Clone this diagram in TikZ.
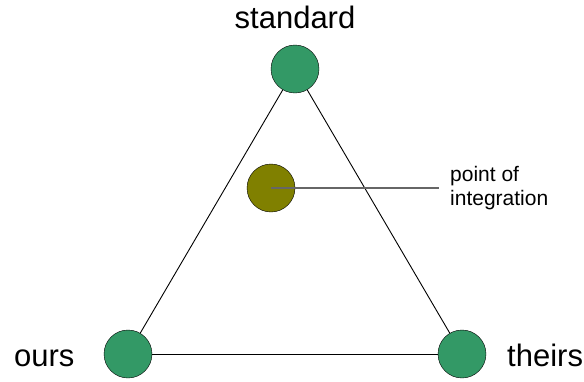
\documentclass[tikz,border=0pt]{standalone}
\usepackage{fontspec}
\setmainfont{Liberation Sans}
\usetikzlibrary{positioning}
\definecolor{vertexgreen}{HTML}{339966}
\definecolor{olivedot}{HTML}{808000}
\definecolor{pointer}{HTML}{666666}
\tikzset{
  vertex/.style={circle,draw=black,fill=vertexgreen,minimum size=48pt,inner sep=0pt},
  integ/.style={circle,draw=black,fill=olivedot,minimum size=48pt,inner sep=0pt},
  biglabel/.style={inner sep=0pt,font=\fontsize{31}{37}\selectfont},
  note/.style={align=left,inner xsep=11pt,inner ysep=0pt,font=\fontsize{21}{24}\selectfont},
  edge/.style={draw=black,line width=0.9pt}
}
\begin{document}
\begin{tikzpicture}[x=1pt,y=-1pt]
  \useasboundingbox (0,0) rectangle (584,381);
  \node[vertex] (std) at (295,69) {};
  \node[vertex] (ours) at (128,354) {};
  \node[vertex] (theirs) at (462,354) {};
  \node[integ] (poi) at (271,188) {};
  \node[biglabel,anchor=base] (stdlabel) at (295,28) {standard};
  \node[biglabel,anchor=base west] (ourslabel) at (14,366) {ours};
  \node[biglabel,anchor=base west] (theirslabel) at (507,366) {theirs};
  \node[note,anchor=west] (poinote) at (439,188) {point of\\integration};
  \draw[edge] (std) -- (ours);
  \draw[edge] (std) -- (theirs);
  \draw[edge] (ours) -- (theirs);
  \draw[pointer,line width=1.5pt] (poi.center) -- (poinote.west);
\end{tikzpicture}
\end{document}
